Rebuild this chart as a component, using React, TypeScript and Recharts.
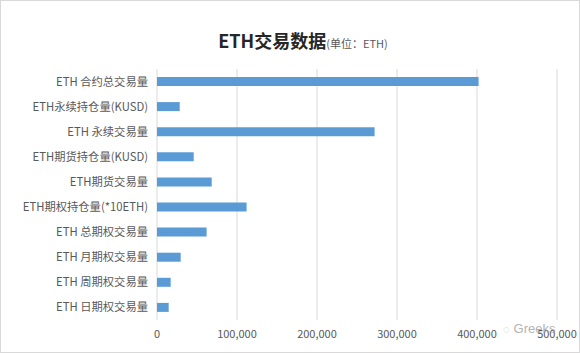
import { BarChart, Bar, XAxis, YAxis, CartesianGrid } from "recharts";

const categories = [
  "ETH 合约总交易量",
  "ETH永续持仓量(KUSD)",
  "ETH 永续交易量",
  "ETH期货持仓量(KUSD)",
  "ETH期货交易量",
  "ETH期权持仓量(*10ETH)",
  "ETH 总期权交易量",
  "ETH 月期权交易量",
  "ETH 周期权交易量",
  "ETH 日期权交易量",
];
const volumes = [402000, 28400, 272000, 45900, 68400, 112000, 62000, 29600, 17100, 14600];
const xTicks = [0, 100000, 200000, 300000, 400000, 500000];

const data = categories.map((name, i) => ({ name, value: volumes[i] }));

const font = '"Noto Sans CJK SC", "Microsoft YaHei", sans-serif';

export default function App() {
  return (
    <div
      style={{
        position: "absolute",
        left: 0,
        top: 0,
        width: 580,
        height: 353,
        background: "#fff",
        boxSizing: "border-box",
        border: "1px solid #d9d9d9",
        fontFamily: font,
      }}
    >
      <div
        style={{
          position: "absolute",
          top: 26,
          left: 0,
          width: 580,
          textAlign: "center",
          paddingLeft: 24,
          boxSizing: "border-box",
          color: "#262626",
          whiteSpace: "nowrap",
        }}
      >
        <span style={{ fontSize: 18, fontWeight: 700 }}>ETH交易数据</span>
        <span style={{ fontSize: 11, color: "#595959" }}>(单位：ETH)</span>
      </div>
      <div style={{ position: "absolute", left: -1, top: -1 }}>
        <BarChart
          width={580}
          height={353}
          data={data}
          layout="vertical"
          margin={{ top: 69, right: 23, bottom: 0, left: 0 }}
        >
          <CartesianGrid horizontal={false} stroke="#d9d9d9" />
          <XAxis
            type="number"
            domain={[0, 500000]}
            ticks={xTicks}
            axisLine={false}
            tickLine={false}
            height={33}
            tickMargin={4}
            tick={{ fill: "#595959", fontSize: 11, fontFamily: font }}
            tickFormatter={(v: number) => v.toLocaleString("en-US")}
          />
          <YAxis
            type="category"
            dataKey="name"
            width={157}
            axisLine={false}
            tickLine={false}
            tickSize={0}
            tickMargin={9}
            interval={0}
            tick={{ fill: "#595959", fontSize: 11.3, fontFamily: font }}
          />
          <Bar dataKey="value" fill="#5b9bd5" barSize={9} isAnimationActive={false} />
        </BarChart>
      </div>
      <div
        style={{
          position: "absolute",
          left: 502,
          top: 320,
          fontSize: 13,
          color: "#9a9a9a",
          fontFamily: "Arial, sans-serif",
          opacity: 0.75,
          whiteSpace: "nowrap",
        }}
      >
        <span style={{ fontSize: 11, marginRight: 4 }}>◌</span>Greeks
      </div>
    </div>
  );
}
